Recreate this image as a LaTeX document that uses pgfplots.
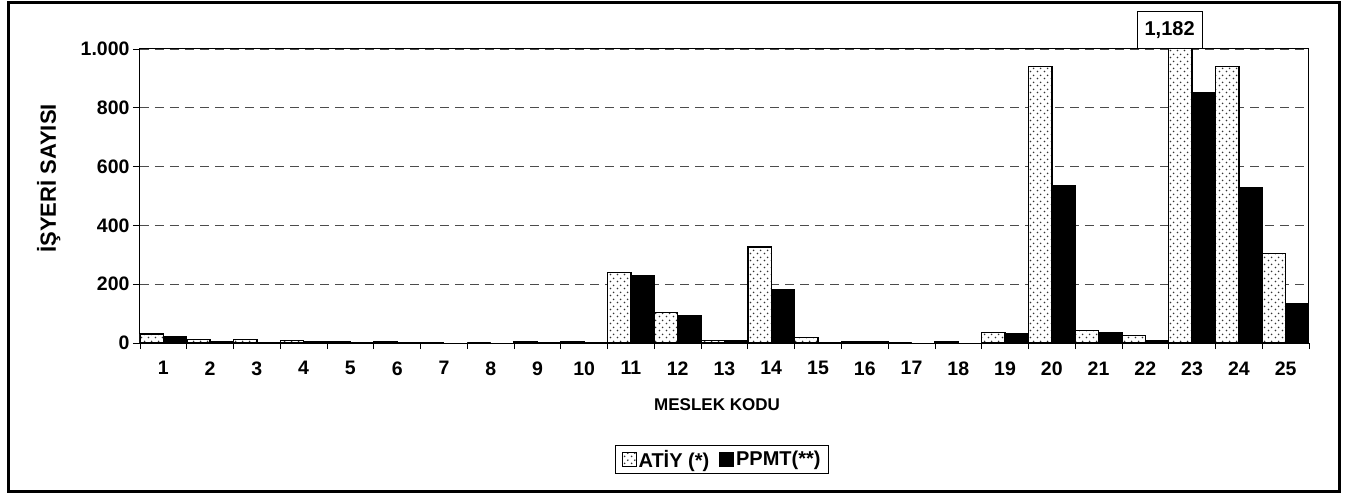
\documentclass[border=0pt]{standalone}
\usepackage{fontspec}
\setmainfont{Liberation Sans}
\usepackage{pgfplots}
\pgfplotsset{compat=1.18}
\usetikzlibrary{patterns}
\pgfdeclarepatternformonly{sparsedots}{\pgfqpoint{0pt}{0pt}}{\pgfqpoint{7pt}{7pt}}{\pgfqpoint{7pt}{7pt}}{%
  \pgfpathcircle{\pgfqpoint{1.75pt}{1.75pt}}{1pt}%
  \pgfpathcircle{\pgfqpoint{5.25pt}{5.25pt}}{1pt}%
  \pgfusepath{fill}}

\pgfplotstableread{
x atiy ppmt
1 30 21
2 12 6
3 12 1
4 8 5
5 3 3
6 3 2
7 0 0
8 0 0
9 3 2
10 3 1
11 240 230
12 104 95
13 8 10
14 327 181
15 18 1
16 5 4
17 0 0
18 4 0
19 35 32
20 940 537
21 42 37
22 25 8
23 1182 851
24 940 528
25 305 135
}\datatable

\begin{document}
\begin{tikzpicture}[x=1pt,y=1pt]
\useasboundingbox (0,0) rectangle (1345,493);
\begin{axis}[
  at={(140pt,150pt)}, anchor=south west,
  scale only axis, width=1169pt, height=294pt,
  ybar=0pt, bar width=23.38pt,
  xmin=0.5, xmax=25.5, ymin=0, ymax=1000,
  enlargelimits=false,
  clip mode=individual,
  xtick={1,...,25},
  minor xtick={0.5,1.5,...,25.5},
  major x tick style={draw=none},
  ytick={0,200,400,600,800,1000},
  yticklabels={0,200,400,600,800,1.000},
  tick pos=left,
  tick align=outside,
  major tick length=7pt,
  minor tick length=6pt,
  tick style={black, line width=0.8pt},
  ymajorgrids,
  grid style={dash pattern=on 9pt off 6pt, black!70, line width=0.8pt},
  axis line style={black, line width=1pt},
  /pgf/number format/assume math mode=true,
  tick label style={font=\bfseries\fontsize{19.5}{20}\selectfont},
  xticklabel style={yshift=-8pt},
  xlabel={MESLEK KODU},
  ylabel={İŞYERİ SAYISI},
  xlabel style={font=\bfseries\fontsize{17}{18}\selectfont, at={(axis description cs:0.4936,-0.211)}, anchor=center},
  ylabel style={font=\bfseries\fontsize{22}{22}\selectfont, at={(axis description cs:-0.078,0.56)}, anchor=center, rotate=0},
  legend columns=2,
  legend style={at={(axis description cs:0.498,-0.396)}, anchor=center,
    draw=black, line width=0.8pt, font=\bfseries\fontsize{20}{22}\selectfont,
    inner xsep=6pt, inner ysep=3pt,
    nodes={inner xsep=2pt},
    /tikz/every even column/.append style={column sep=8pt}},
  legend image code/.code={\draw[#1, line width=0.8pt] (0pt,-7pt) rectangle (14pt,7pt);},
]
\addplot[draw=black, line width=1.5pt, fill=white,
  postaction={pattern=sparsedots, pattern color=black!80}]
  table[x=x, y=atiy] {\datatable};
\addlegendentry{ATİY (*)}
\addplot[draw=black, fill=black, line width=0.8pt]
  table[x=x, y=ppmt] {\datatable};
\addlegendentry{PPMT(**)}
\node[draw=black, fill=white, line width=1pt, minimum width=65pt, minimum height=37pt,
  font=\bfseries\fontsize{20}{20}\selectfont, inner sep=0pt]
  at (axis cs:22.52,1066) {1,182};
\end{axis}
\draw[black, line width=3pt] (8.5,2) rectangle (1339,490.5);
\end{tikzpicture}
\end{document}
